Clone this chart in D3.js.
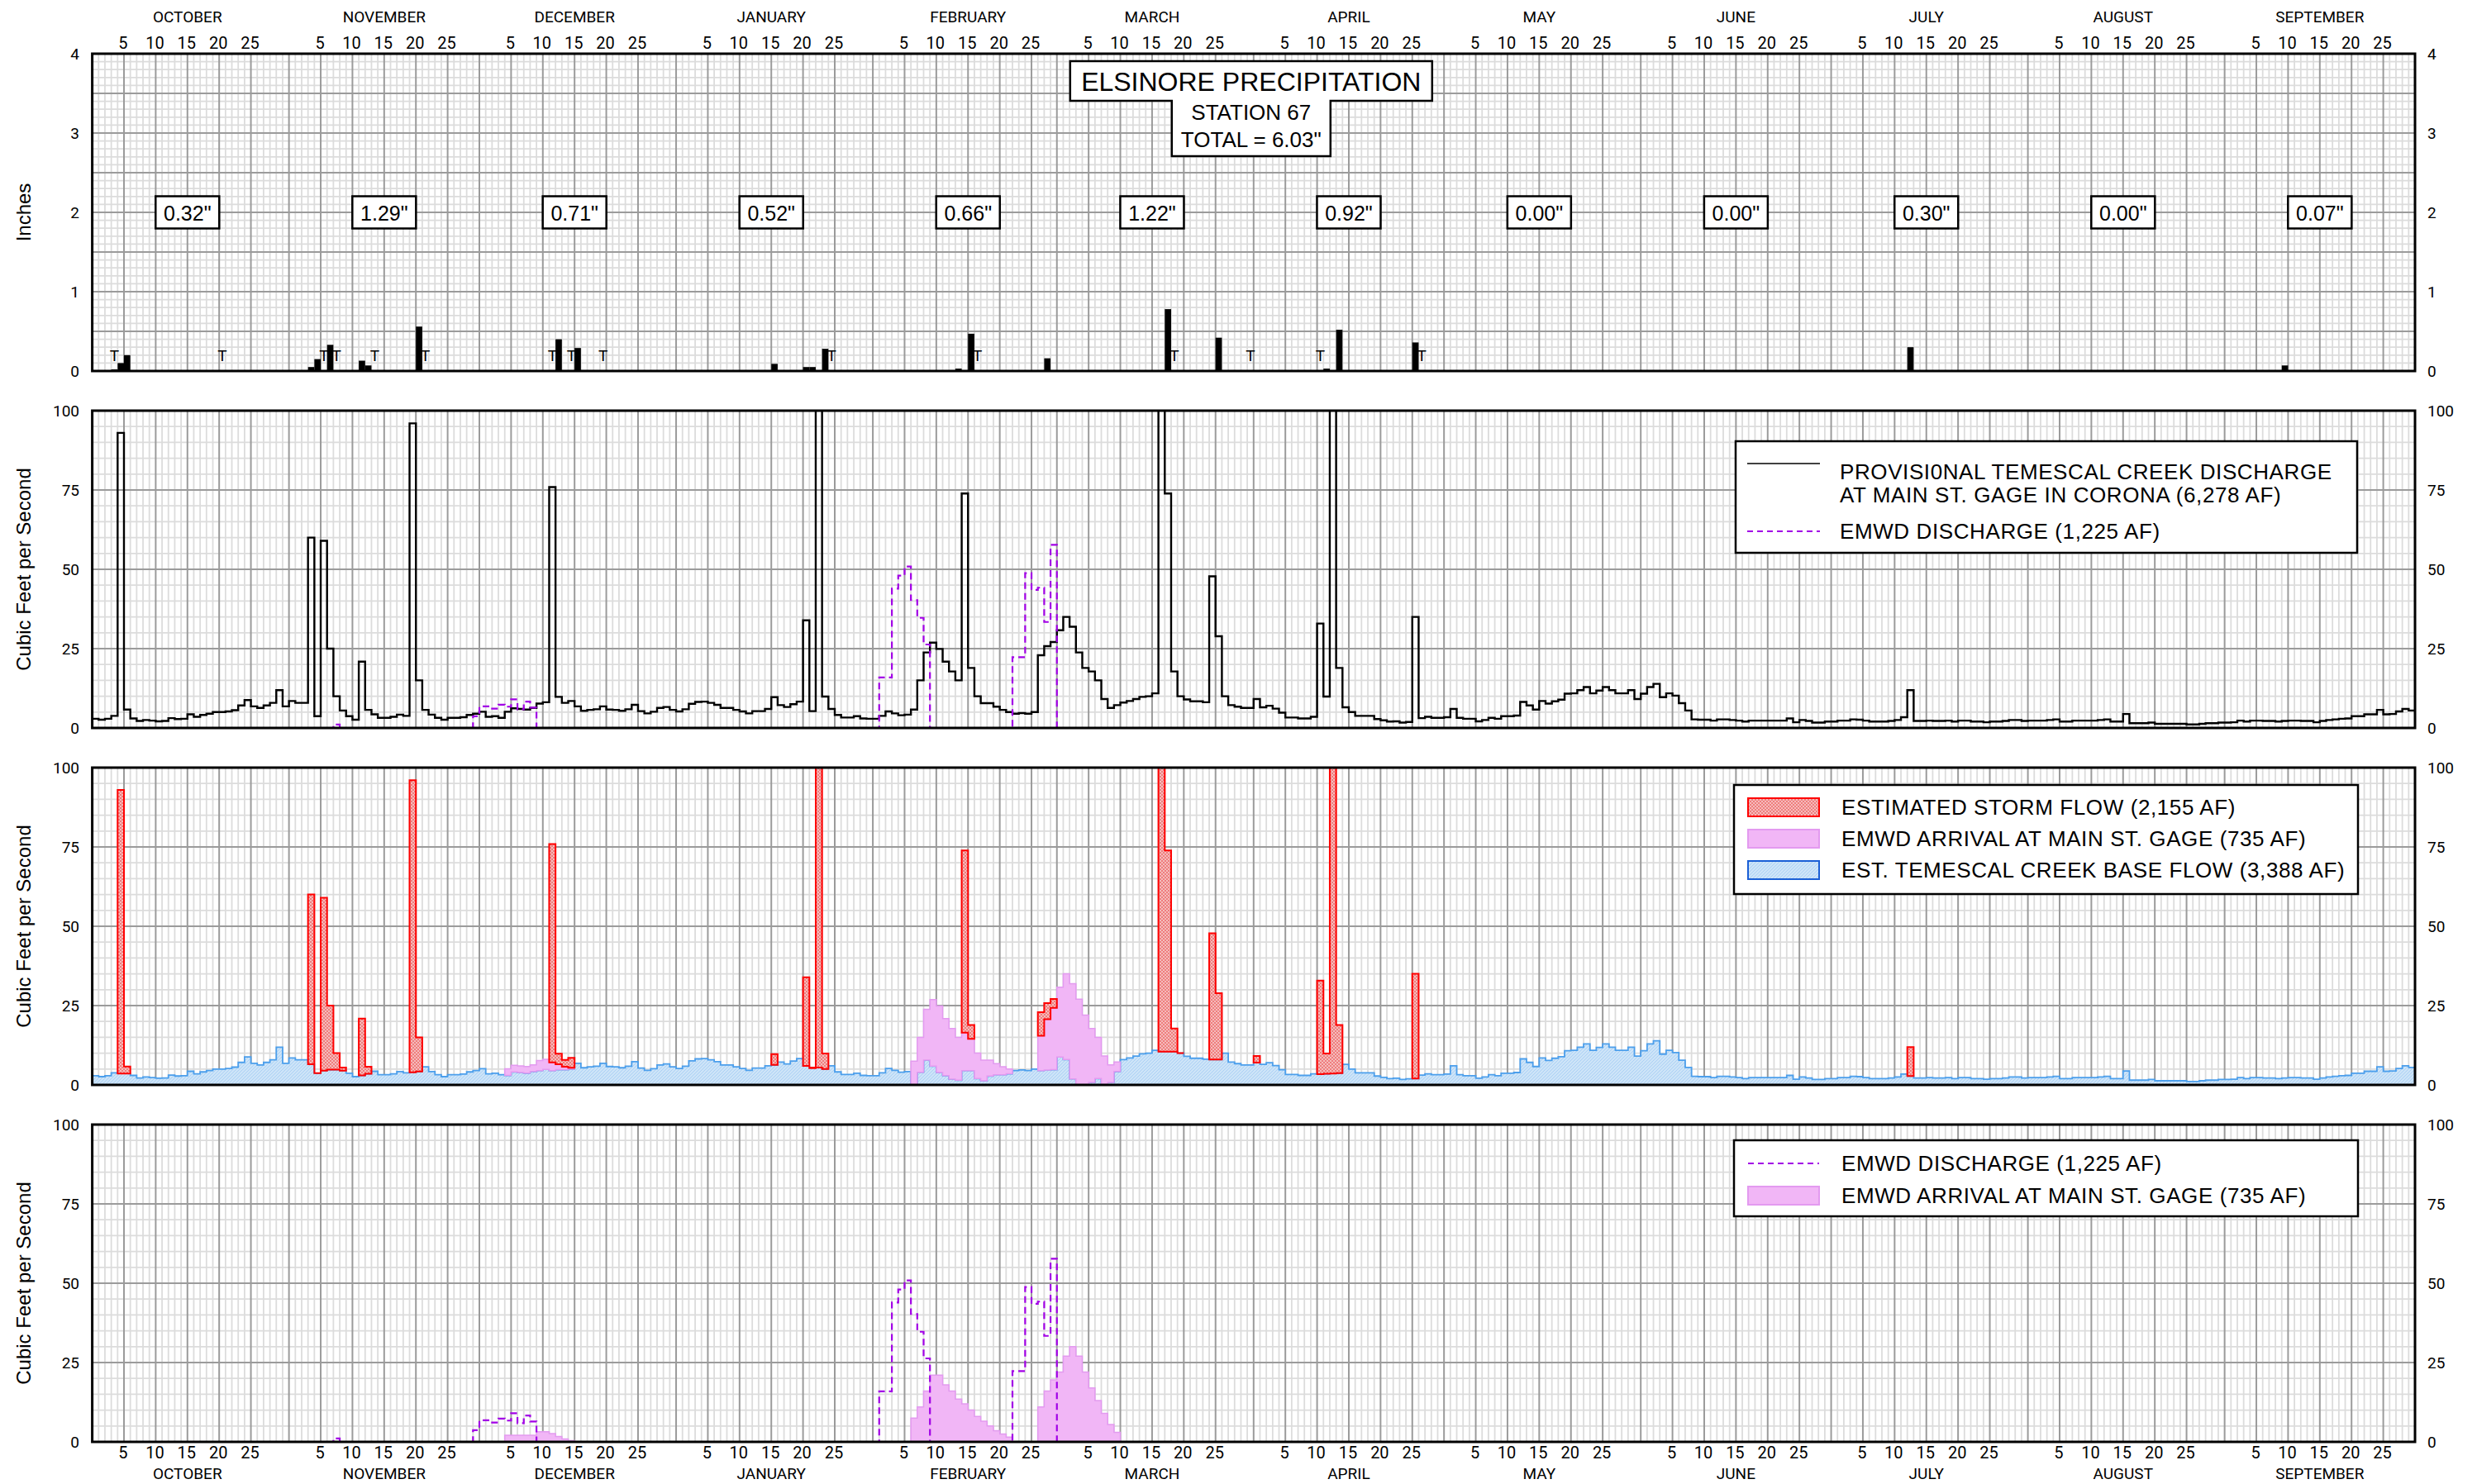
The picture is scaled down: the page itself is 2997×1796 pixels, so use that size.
<!DOCTYPE html>
<html>
<head>
<meta charset="utf-8">
<script src="https://cdn.jsdelivr.net/npm/d3@7"></script>
<style>
  html, body { margin: 0; padding: 0; background: #fff; }
  svg { display: block; }
  text { font-family: Roboto, "Liberation Sans", Arial, sans-serif; fill: #000; }
  .sans { font-family: "Liberation Sans", Arial, sans-serif; }
  .legend { font-family: "Liberation Sans", Arial, sans-serif; font-size: 26px; letter-spacing: 0.6px; }
</style>
</head>
<body>
<svg id="chart" width="2997" height="1796"></svg>
<script>
// ---------------- calendar (water year, leap February) ----------------
const monthNames = ["OCTOBER","NOVEMBER","DECEMBER","JANUARY","FEBRUARY","MARCH",
                    "APRIL","MAY","JUNE","JULY","AUGUST","SEPTEMBER"];
const monthDays  = [31,30,31,31,29,31,30,31,30,31,31,30];
const dayTicks   = [5,10,15,20,25];
const monthlyTotals = ["0.32\"","1.29\"","0.71\"","0.52\"","0.66\"","1.22\"",
                       "0.92\"","0.00\"","0.00\"","0.30\"","0.00\"","0.07\""];

// ---------------- daily precipitation (inches), by day of water year ----------------
const precipDay    = [3, 4, 5, 34, 35, 37, 42, 43, 51, 73, 76, 107, 112, 113, 115, 136, 138, 150, 169, 177, 194, 196, 208, 286, 345];
const precipInches = [0.02,0.10,0.20, 0.05,0.15,0.33,0.13,0.07,0.56, 0.40,0.29, 0.09,0.05,0.05,0.28, 0.03,0.47,0.16, 0.78,0.42, 0.03,0.52,0.36, 0.30, 0.07];
const traceDay     = [3, 20, 36, 38, 44, 52, 72, 75, 80, 116, 139, 170, 182, 193, 209];

// ---------------- Temescal Creek discharge at Main St. gage (cfs) ----------------
const flowOct = [2.9,2.6,2.9,3.8,93,5.8,3.0,2.2,2.5,2.3,2.1,2.2,3.1,2.8,2.9,4.3,3.5,4.1,4.5,5.0,5.0,5.2,5.6,7.1,8.8,6.8,6.3,7.1,7.9,11.9,6.8];
const flowNov = [8.5,7.9,7.9,60,3.7,59,25,10,5.5,3.7,2.6,20.9,5.7,4.3,3.2,3.2,3.5,4.2,3.8,96,15,5.7,4.2,3.2,2.6,3.2,3.2,3.4,4.1,4.5];
const flowDec = [5.1,3.5,3.7,3.2,5.1,6.2,6.0,5.8,6.3,7.7,8.1,75.9,9.8,7.9,8.5,6.8,5.4,5.7,5.9,6.8,5.8,5.7,5.4,5.9,7.3,5.3,4.6,5.1,6.3,6.6,5.7];
const flowJan = [5.2,5.9,7.6,8.2,8.3,7.9,7.3,6.3,6.3,5.7,5.2,4.6,5.3,5.3,6.0,9.7,7.2,6.6,7.5,8.3,33.9,5.3,120,9.9,6.0,4.1,3.3,3.3,3.7,3.0,2.9];
const flowFeb = [2.9,3.8,5.2,4.6,4.0,4.2,5.8,15,23.8,26.9,24.9,20.9,17.8,15,73.9,18.9,10,7.8,7.8,6.7,5.7,5.0,4.5,4.7,4.5,5.0,22.9,25.8,27.1];
const flowMar = [30.8,35,31.9,23.8,18.9,17.8,15,9.1,6.3,7.2,8.0,8.5,9.1,9.8,10,10.9,140,73.9,17.8,10,9.0,8.4,8.4,8.1,47.8,28.9,10,7.2,6.7,6.3,6.3];
const flowApr = [9.1,6.5,7.0,6.1,4.8,3.3,3.3,3.0,3.0,3.5,32.9,9.9,125,18.9,6.5,5.0,3.8,3.8,3.8,2.8,2.4,2.0,2.1,1.7,1.9,35,3.1,3.5,3.2,3.2];
const flowMay = [3.4,6.0,3.2,2.9,2.9,2.1,2.5,3.2,2.9,3.7,3.7,3.9,8.2,7.1,5.8,8.5,7.7,8.4,8.9,10.8,10.9,11.9,12.9,10.9,11.8,12.9,11.9,10.9,10.9,11.9,9.1];
const flowJun = [10.8,12.9,13.9,9.7,10.9,10.2,7.8,5.5,2.7,2.6,2.6,2.3,2.7,2.7,2.5,2.3,2.0,2.3,2.3,2.3,2.3,2.3,2.3,3.0,1.8,2.5,2.2,1.7,1.7,2.0];
const flowJul = [2.0,2.3,2.3,2.7,2.6,2.3,2.0,2.0,2.0,2.2,2.5,3.4,11.9,2.2,2.2,2.3,2.2,2.2,2.3,2.0,2.3,2.3,2.0,2.0,1.8,2.0,2.0,2.2,2.5,2.5,2.2];
const flowAug = [2.3,2.3,2.3,2.5,2.7,2.0,2.0,2.3,2.3,2.3,2.3,2.5,2.7,2.0,2.0,4.4,1.5,1.5,1.5,1.7,1.3,1.3,1.3,1.3,1.3,1.1,1.1,1.3,1.5,1.5,1.7];
const flowSep = [1.7,1.8,2.3,2.0,2.3,2.3,2.2,2.2,2.0,2.2,2.3,2.3,2.2,2.2,1.8,2.2,2.5,2.7,2.9,3.0,3.7,3.7,4.3,4.3,5.7,4.3,4.4,5.2,6.0,5.5];

// ---------------- EMWD discharge (cfs), runs starting at day of water year ----------------
const emwdDischargeStart = [38, 60, 124, 145];
const emwdDischarge = [
  [1.1],
  [3.7,6.8,6.8,6.1,7.3,6.7,9.0,5.9,8.3,6.4],
  [15.9,15.9,43.9,48.0,50.9,40.3,34.7,26.3],
  [22.3,22.3,48.8,43.5,44.2,33.4,57.7]
];

// ---------------- EMWD arrival at Main St. gage (cfs) ----------------
const emwdArrivalStart = [65, 129, 149];
const emwdArrival = [
  [2.1,2.1,2.1,2.1,2.1,3.2,3.2,2.6,1.7,0.9,0.4],
  [7.5,11,16,21,21,18,16,13.5,12,10,8,6.5,5,3.5,2.5,1.5],
  [11,16,19.5,22,27,30,27,22,17,13,9,5.5,3]
];

// ---------------- estimated base flow beneath storm events (cfs) ----------------
const stormStart = [4, 34, 42, 50, 72, 107, 112, 137, 149, 168, 176, 183, 193, 208, 286];
const stormBase = [
  [3.6,3.6],
  [6.5,3.7,4.5,4.8,4.8,4.5],
  [3.0,3.5],
  [4.0,4.2],
  [4.5,4.8,4.8,5.0],
  [6.3],
  [6.0,5.5,5.5,5.0],
  [4.5,4.5],
  [4.5,4.7,4.8],
  [10.5,10.5,10.5,10.0],
  [8.0,8.0],
  [7.0],
  [3.4,3.5,3.6,3.7],
  [2.0],
  [2.8]
];

// ---------------- derived daily series ----------------
const total = [].concat(flowOct,flowNov,flowDec,flowJan,flowFeb,flowMar,flowApr,flowMay,flowJun,flowJul,flowAug,flowSep);
const nDays = total.length; // 366
function expandRuns(starts, runs) {
  const out = new Array(nDays).fill(0);
  runs.forEach((r, k) => r.forEach((v, j) => { out[starts[k] + j] = v; }));
  return out;
}
const discharge = expandRuns(emwdDischargeStart, emwdDischarge);
const arrival = expandRuns(emwdArrivalStart, emwdArrival);
const isStorm = new Array(nDays).fill(false);
const base = total.map((v, i) => Math.max(0, v - arrival[i]));
stormBase.forEach((r, k) => r.forEach((v, j) => { const d = stormStart[k] + j; base[d] = v; isStorm[d] = true; }));

const monthStart = [];
monthDays.reduce((acc, n) => { monthStart.push(acc); return acc + n; }, 0);

// ---------------- layout ----------------
const svg = d3.select("#chart");
const L = 111.6, R = 2922, PH = 384;
const tops = [65, 497, 929, 1361];
const x = d3.scaleLinear().domain([0, nDays]).range([L, R]);
const yP = d3.scaleLinear().domain([0, 4]).range([tops[0] + PH, tops[0]]);
const yF = tops.slice(1).map(t => d3.scaleLinear().domain([0, 100]).range([t + PH, t]));

const defs = svg.append("defs");
tops.forEach((t, k) => {
  defs.append("clipPath").attr("id", "clip" + k)
    .append("rect").attr("x", L).attr("y", t).attr("width", R - L).attr("height", PH);
});
// hatch fills
const ps = defs.append("pattern").attr("id", "stormFill").attr("patternUnits", "userSpaceOnUse")
  .attr("width", 4).attr("height", 4);
ps.append("rect").attr("width", 4).attr("height", 4).attr("fill", "#f5bcbc");
ps.append("path").attr("d", "M0,4 L4,0 M0,0 L4,4").attr("stroke", "#ec6262").attr("stroke-width", 0.7);
const pb = defs.append("pattern").attr("id", "baseFill").attr("patternUnits", "userSpaceOnUse")
  .attr("width", 4).attr("height", 4);
pb.append("rect").attr("width", 4).attr("height", 4).attr("fill", "#cde4f8");
pb.append("path").attr("d", "M0,4 L4,0").attr("stroke", "#a2ccf2").attr("stroke-width", 0.8);

const majorDays = [];
monthStart.forEach((s, m) => { if (m > 0) majorDays.push(s); dayTicks.forEach(d => majorDays.push(s + d)); });
const minorDays = d3.range(1, nDays).filter(d => !majorDays.includes(d));

function drawGrid(k, y, max, minorStep, majorStep) {
  const t = tops[k], b = t + PH;
  const g = svg.append("g");
  const minorVals = d3.range(minorStep, max, minorStep).filter(v => Math.abs(v / majorStep - Math.round(v / majorStep)) > 1e-6);
  const majorVals = d3.range(majorStep, max, majorStep);
  g.selectAll(".mv").data(minorDays).join("line")
    .attr("x1", d => x(d)).attr("x2", d => x(d)).attr("y1", t).attr("y2", b)
    .attr("stroke", "#dcdcdc").attr("stroke-width", 1.8);
  g.selectAll(".mh").data(minorVals).join("line")
    .attr("x1", L).attr("x2", R).attr("y1", d => y(d)).attr("y2", d => y(d))
    .attr("stroke", "#dcdcdc").attr("stroke-width", 1.8);
  g.selectAll(".Mv").data(majorDays).join("line")
    .attr("x1", d => x(d)).attr("x2", d => x(d)).attr("y1", t).attr("y2", b)
    .attr("stroke", "#9b9b9b").attr("stroke-width", 2);
  g.selectAll(".Mh").data(majorVals).join("line")
    .attr("x1", L).attr("x2", R).attr("y1", d => y(d)).attr("y2", d => y(d))
    .attr("stroke", "#9b9b9b").attr("stroke-width", 2);
}
function drawFrame(k) {
  svg.append("rect").attr("x", L).attr("y", tops[k]).attr("width", R - L).attr("height", PH)
    .attr("fill", "none").attr("stroke", "#000").attr("stroke-width", 3);
}
function yLabels(y, vals) {
  const g = svg.append("g").attr("font-size", 19);
  g.selectAll(".l").data(vals).join("text").attr("x", 96).attr("y", d => y(d))
    .attr("text-anchor", "end").attr("dominant-baseline", "central").text(d => d);
  g.selectAll(".r").data(vals).join("text").attr("x", 2937).attr("y", d => y(d))
    .attr("text-anchor", "start").attr("dominant-baseline", "central").text(d => d);
}
function yTitle(k, label) {
  svg.append("text").attr("class", "sans").attr("font-size", 24)
    .attr("transform", `translate(28,${tops[k] + PH / 2}) rotate(-90)`)
    .attr("text-anchor", "middle").attr("dominant-baseline", "central").text(label);
}
function stepPoints(from, to, fy0, fy1) {
  const pts = d3.range(from, to + 1).map(d => ({ t: d, y0: fy0(d), y1: fy1(d) }));
  pts.push({ t: to + 1, y0: fy0(to), y1: fy1(to) });
  return pts;
}
function runsOf(flags) {
  const runs = []; let s = -1;
  flags.forEach((f, i) => {
    if (f && s < 0) s = i;
    if (!f && s >= 0) { runs.push([s, i - 1]); s = -1; }
  });
  if (s >= 0) runs.push([s, flags.length - 1]);
  return runs;
}

// ---------------- axis day/month labels ----------------
const tickLabels = [];
monthStart.forEach((s, m) => dayTicks.forEach(d => tickLabels.push({ pos: s + d, label: d })));
function xLabels(yDays, yMonths) {
  const g = svg.append("g");
  g.selectAll(".d").data(tickLabels).join("text").attr("x", d => x(d.pos) - 1).attr("y", yDays)
    .attr("font-size", 20).attr("text-anchor", "middle").attr("dominant-baseline", "central").text(d => d.label);
  g.selectAll(".m").data(monthNames).join("text").attr("x", (d, i) => x(monthStart[i] + 15)).attr("y", yMonths)
    .attr("font-size", 19).attr("text-anchor", "middle").attr("dominant-baseline", "central").text(d => d);
}
xLabels(52, 20);
xLabels(1758, 1783);

// ================= Panel 1: precipitation =================
drawGrid(0, yP, 4, 0.1, 0.5);
const p1 = svg.append("g").attr("clip-path", "url(#clip0)");
p1.selectAll(".bar").data(precipDay).join("rect")
  .attr("x", d => x(d)).attr("width", x(1) - x(0))
  .attr("y", (d, i) => yP(precipInches[i])).attr("height", (d, i) => yP(0) - yP(precipInches[i]))
  .attr("fill", "#000");
p1.selectAll(".trace").data(traceDay).join("rect")
  .attr("x", d => x(d)).attr("width", x(1) - x(0))
  .attr("y", yP(0.01)).attr("height", yP(0) - yP(0.01)).attr("fill", "#000");
svg.append("g").selectAll("text").data(traceDay).join("text")
  .attr("x", d => x(d + 0.5)).attr("y", yP(0.19)).attr("font-size", 19)
  .attr("text-anchor", "middle").attr("dominant-baseline", "central").text("T");
// monthly total boxes
const mt = svg.append("g");
monthlyTotals.forEach((lab, m) => {
  const cx = x(monthStart[m] + 15), cy = yP(2);
  mt.append("rect").attr("x", cx - 38.5).attr("y", cy - 19.5).attr("width", 77).attr("height", 39)
    .attr("fill", "#fff").attr("stroke", "#000").attr("stroke-width", 2.5);
  mt.append("text").attr("class", "sans").attr("x", cx).attr("y", cy + 1).attr("font-size", 25)
    .attr("text-anchor", "middle").attr("dominant-baseline", "central").text(lab);
});
// title block
const tc = (L + R) / 2 - 3;
const titlePath = `M${tc - 219},74 H${tc + 219} V122 H${tc + 96} V189 H${tc - 96} V122 H${tc - 219} Z`;
svg.append("path").attr("d", titlePath).attr("fill", "#fff").attr("stroke", "#000").attr("stroke-width", 2.5);
svg.append("text").attr("class", "sans").attr("x", tc).attr("y", 110).attr("font-size", 32).attr("text-anchor", "middle").text("ELSINORE PRECIPITATION");
svg.append("text").attr("class", "sans").attr("x", tc).attr("y", 145).attr("font-size", 26).attr("text-anchor", "middle").text("STATION 67");
svg.append("text").attr("class", "sans").attr("x", tc).attr("y", 178).attr("font-size", 26).attr("text-anchor", "middle").text("TOTAL = 6.03\"");
drawFrame(0);
yLabels(yP, [0, 1, 2, 3, 4]);
yTitle(0, "Inches");

// ================= Panel 2: total discharge and EMWD discharge =================
const y2 = yF[0];
drawGrid(1, y2, 100, 5, 25);
const lineStep = (y) => d3.line().x(d => x(d.t)).y(d => y(d.y1)).curve(d3.curveStepAfter);
const allPts = (arr) => stepPoints(0, nDays - 1, () => 0, d => arr[d]);
const p2 = svg.append("g").attr("clip-path", "url(#clip1)");
p2.append("path").datum(allPts(total)).attr("d", lineStep(y2))
  .attr("fill", "none").attr("stroke", "#000").attr("stroke-width", 2.4);
p2.append("path").datum(allPts(discharge)).attr("d", lineStep(y2))
  .attr("fill", "none").attr("stroke", "#a200e6").attr("stroke-width", 2.2).attr("stroke-dasharray", "8,5");
drawFrame(1);
yLabels(y2, [0, 25, 50, 75, 100]);
yTitle(1, "Cubic Feet per Second");
// legend
const lg2 = svg.append("g");
lg2.append("rect").attr("x", 2100).attr("y", 534).attr("width", 752).attr("height", 135)
  .attr("fill", "#fff").attr("stroke", "#000").attr("stroke-width", 2.5);
lg2.append("line").attr("x1", 2114).attr("x2", 2202).attr("y1", 561).attr("y2", 561).attr("stroke", "#000").attr("stroke-width", 1.5);
lg2.append("line").attr("x1", 2114).attr("x2", 2202).attr("y1", 643).attr("y2", 643)
  .attr("stroke", "#a200e6").attr("stroke-width", 2).attr("stroke-dasharray", "7,5");
[["PROVISI0NAL TEMESCAL CREEK DISCHARGE", 580], ["AT MAIN ST. GAGE IN CORONA (6,278 AF)", 608], ["EMWD DISCHARGE (1,225 AF)", 652]]
  .forEach(([t, yy]) => lg2.append("text").attr("class", "legend").attr("x", 2226).attr("y", yy).text(t));

// ================= Panel 3: flow components =================
const y3 = yF[1];
drawGrid(2, y3, 100, 5, 25);
const areaStep = (y) => d3.area().x(d => x(d.t)).y0(d => y(d.y0)).y1(d => y(d.y1)).curve(d3.curveStepAfter);
const p3 = svg.append("g").attr("clip-path", "url(#clip2)");
const basePts = stepPoints(0, nDays - 1, () => 0, d => base[d]);
p3.append("path").datum(basePts).attr("d", areaStep(y3)).attr("fill", "url(#baseFill)");
p3.append("path").datum(basePts).attr("d", lineStep(y3)).attr("fill", "none").attr("stroke", "#4c9fec").attr("stroke-width", 1.8);
runsOf(arrival.map(v => v > 0)).forEach(([s, e]) => {
  p3.append("path").datum(stepPoints(s, e, d => base[d], d => base[d] + arrival[d])).attr("d", areaStep(y3))
    .attr("fill", "#f1b6f6").attr("stroke", "#e39af0").attr("stroke-width", 1.5);
});
runsOf(isStorm).forEach(([s, e]) => {
  p3.append("path").datum(stepPoints(s, e, d => base[d] + arrival[d], d => total[d])).attr("d", areaStep(y3))
    .attr("fill", "url(#stormFill)").attr("stroke", "#ff0000").attr("stroke-width", 2);
});
drawFrame(2);
yLabels(y3, [0, 25, 50, 75, 100]);
yTitle(2, "Cubic Feet per Second");
const lg3 = svg.append("g");
lg3.append("rect").attr("x", 2098).attr("y", 950).attr("width", 755).attr("height", 132)
  .attr("fill", "#fff").attr("stroke", "#000").attr("stroke-width", 2.5);
[["ESTIMATED STORM FLOW (2,155 AF)", 977, "url(#stormFill)", "#ff0000"],
 ["EMWD ARRIVAL AT MAIN ST. GAGE (735 AF)", 1015, "#f1b6f6", "#e39af0"],
 ["EST. TEMESCAL CREEK BASE FLOW (3,388 AF)", 1053, "url(#baseFill)", "#1a5fd6"]].forEach(([t, cy, f, s]) => {
  lg3.append("rect").attr("x", 2115).attr("y", cy - 11).attr("width", 86).attr("height", 22)
    .attr("fill", f).attr("stroke", s).attr("stroke-width", 2);
  lg3.append("text").attr("class", "legend").attr("x", 2228).attr("y", cy).attr("dominant-baseline", "central").text(t);
});

// ================= Panel 4: EMWD discharge and arrival =================
const y4 = yF[2];
drawGrid(3, y4, 100, 5, 25);
const p4 = svg.append("g").attr("clip-path", "url(#clip3)");
runsOf(arrival.map(v => v > 0)).forEach(([s, e]) => {
  p4.append("path").datum(stepPoints(s, e, () => 0, d => arrival[d])).attr("d", areaStep(y4))
    .attr("fill", "#f1b6f6").attr("stroke", "#e39af0").attr("stroke-width", 1.5);
});
p4.append("path").datum(allPts(discharge)).attr("d", lineStep(y4))
  .attr("fill", "none").attr("stroke", "#a200e6").attr("stroke-width", 2.2).attr("stroke-dasharray", "8,5");
drawFrame(3);
yLabels(y4, [0, 25, 50, 75, 100]);
yTitle(3, "Cubic Feet per Second");
const lg4 = svg.append("g");
lg4.append("rect").attr("x", 2098).attr("y", 1380).attr("width", 755).attr("height", 92)
  .attr("fill", "#fff").attr("stroke", "#000").attr("stroke-width", 2.5);
lg4.append("line").attr("x1", 2115).attr("x2", 2201).attr("y1", 1408).attr("y2", 1408)
  .attr("stroke", "#a200e6").attr("stroke-width", 2).attr("stroke-dasharray", "7,5");
lg4.append("rect").attr("x", 2115).attr("y", 1436).attr("width", 86).attr("height", 22)
  .attr("fill", "#f1b6f6").attr("stroke", "#e39af0").attr("stroke-width", 2);
lg4.append("text").attr("class", "legend").attr("x", 2228).attr("y", 1408).attr("dominant-baseline", "central").text("EMWD DISCHARGE (1,225 AF)");
lg4.append("text").attr("class", "legend").attr("x", 2228).attr("y", 1447).attr("dominant-baseline", "central").text("EMWD ARRIVAL AT MAIN ST. GAGE (735 AF)");
</script>
</body>
</html>
